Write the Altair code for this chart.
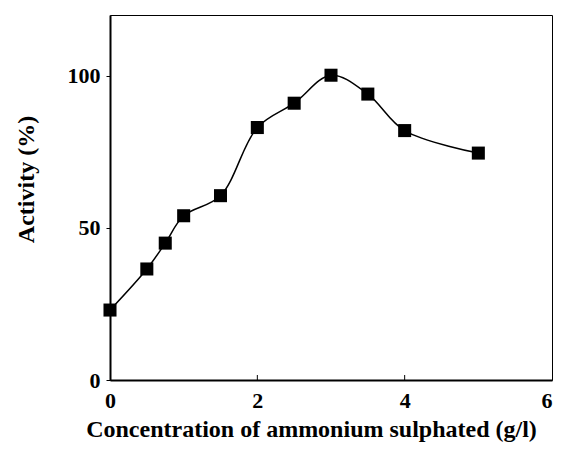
import altair as alt
import pandas as pd

conc = [0, 0.5, 0.75, 1, 1.5, 2, 2.5, 3, 3.5, 4, 5]
activity = [23, 36.5, 45, 54, 60.6, 83, 91, 100.2, 94, 82, 74.6]
x_ticks = [0, 2, 4, 6]
y_ticks = [0, 50, 100]

df = pd.DataFrame({"conc": conc, "activity": activity})
tick_df = pd.DataFrame({"t": [2, 4]})

FONT = "Liberation Serif"

xscale = alt.Scale(domain=[0, 6], nice=False, zero=False)
yscale = alt.Scale(domain=[0, 120], nice=False)

xax = alt.Axis(values=x_ticks, format="d", title="Concentration of ammonium sulphated (g/l)",
               tickSize=0, labelPadding=10, labelFontSize=22, labelFont=FONT, labelFontWeight="bold",
               labelAlign=alt.expr("datum.value >= 6 ? 'right' : 'center'"),
               titleFontSize=24, titleFont=FONT, titleFontWeight="bold", titleX=201, titleY=56,
               titleAlign="center", titleBaseline="alphabetic", grid=False,
               domainColor="black", domainWidth=2,
               labelColor="black", titleColor="black", labelFlush=False, labelOverlap=False)
yax = alt.Axis(values=y_ticks, format="d", title="Activity (%)",
               tickSize=4, tickColor="black", tickWidth=1, labelPadding=6, labelFontSize=22,
               labelFont=FONT, labelFontWeight="bold", titleFontSize=24, titleFont=FONT,
               titleFontWeight="bold", titleX=-77, titleY=164, titleAlign="center",
               titleBaseline="alphabetic", grid=False, domainColor="black", domainWidth=2,
               labelColor="black", titleColor="black", labelFlush=False, labelOverlap=False)

line = alt.Chart(df).mark_line(interpolate="catmull-rom", color="black", strokeWidth=1.5).encode(
    x=alt.X("conc:Q", scale=xscale, axis=xax),
    y=alt.Y("activity:Q", scale=yscale, axis=yax),
)
pts = alt.Chart(df).mark_square(size=170, color="black", opacity=1, filled=True).encode(
    x=alt.X("conc:Q", scale=xscale, axis=xax),
    y=alt.Y("activity:Q", scale=yscale, axis=yax),
)
ticks = alt.Chart(tick_df).mark_rule(color="black", strokeWidth=1).encode(
    x=alt.X("t:Q", scale=xscale, axis=xax),
    y=alt.value(365),
    y2=alt.value(360),
)

chart = alt.layer(line, ticks, pts).properties(
    width=442, height=365,
    autosize=alt.AutoSizeParams(type="none"),
    padding={"left": 102, "top": 7, "right": 1, "bottom": 62},
).configure_view(stroke="black", strokeWidth=1)

chart.save("out.html", embed_options={"renderer": "svg", "actions": False})
